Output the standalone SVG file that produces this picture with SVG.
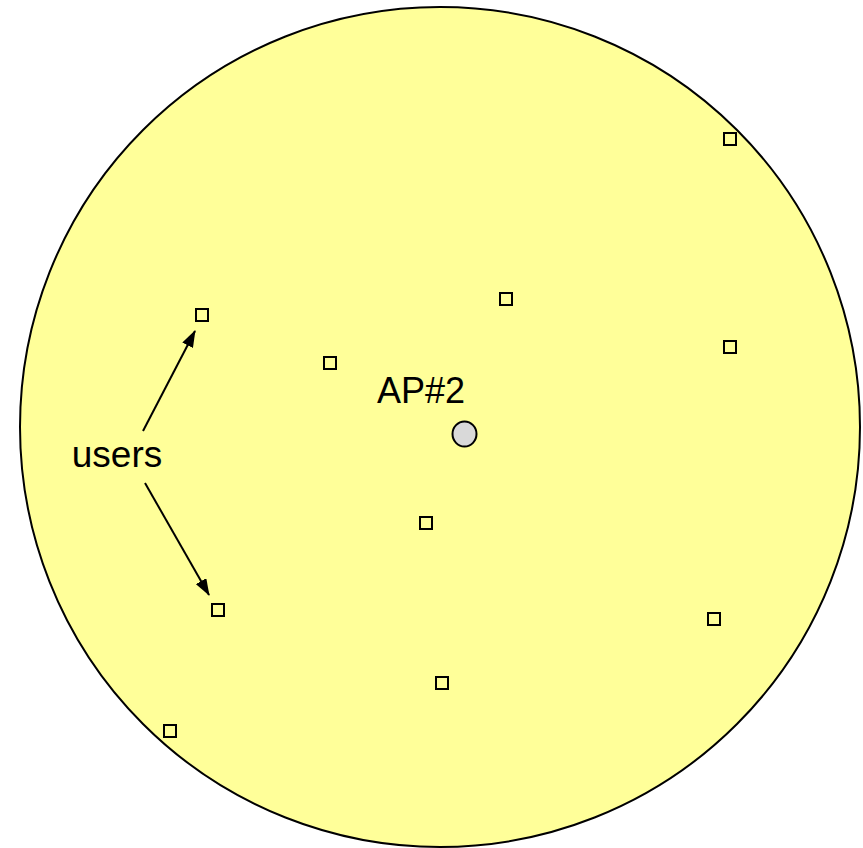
<svg xmlns="http://www.w3.org/2000/svg" width="863" height="848" viewBox="0 0 863 848">
<style>
.user{fill:none;stroke:#000;stroke-width:2}
.lbl{font-family:"Liberation Sans",Arial,sans-serif;fill:#000}
.conn{stroke:#000;stroke-width:2;fill:none}
</style>
<defs>
<marker id="ah" markerWidth="17" markerHeight="12" refX="16" refY="6" orient="auto" markerUnits="userSpaceOnUse" viewBox="0 0 17 12">
<path d="M0,0 L17,6 L0,12 Z" fill="#000"/>
</marker>
</defs>
<rect width="863" height="848" fill="#fff"/>
<g id="cell"><ellipse cx="440" cy="427" rx="420" ry="420" fill="#ffff99" stroke="#000" stroke-width="2"/></g>
<g id="ap"><ellipse cx="464.5" cy="434" rx="12" ry="12.5" fill="#d9d9d9" stroke="#000" stroke-width="2"/><text class="lbl" x="421" y="403" font-size="36" text-anchor="middle">AP#2</text></g>
<g id="users">
<rect class="user" x="724" y="133" width="12" height="12"/>
<rect class="user" x="500" y="293" width="12" height="12"/>
<rect class="user" x="196" y="309" width="12" height="12"/>
<rect class="user" x="324" y="357" width="12" height="12"/>
<rect class="user" x="724" y="341" width="12" height="12"/>
<rect class="user" x="420" y="517" width="12" height="12"/>
<rect class="user" x="212" y="604" width="12" height="12"/>
<rect class="user" x="708" y="613" width="12" height="12"/>
<rect class="user" x="436" y="677" width="12" height="12"/>
<rect class="user" x="164" y="725" width="12" height="12"/>
</g>
<g id="users-label"><text class="lbl" x="117" y="467" font-size="37" text-anchor="middle">users</text></g>
<g id="connectors">
<line class="conn" x1="143" y1="431" x2="195" y2="331" marker-end="url(#ah)"/>
<line class="conn" x1="145" y1="483" x2="209" y2="595" marker-end="url(#ah)"/>
</g>
</svg>
